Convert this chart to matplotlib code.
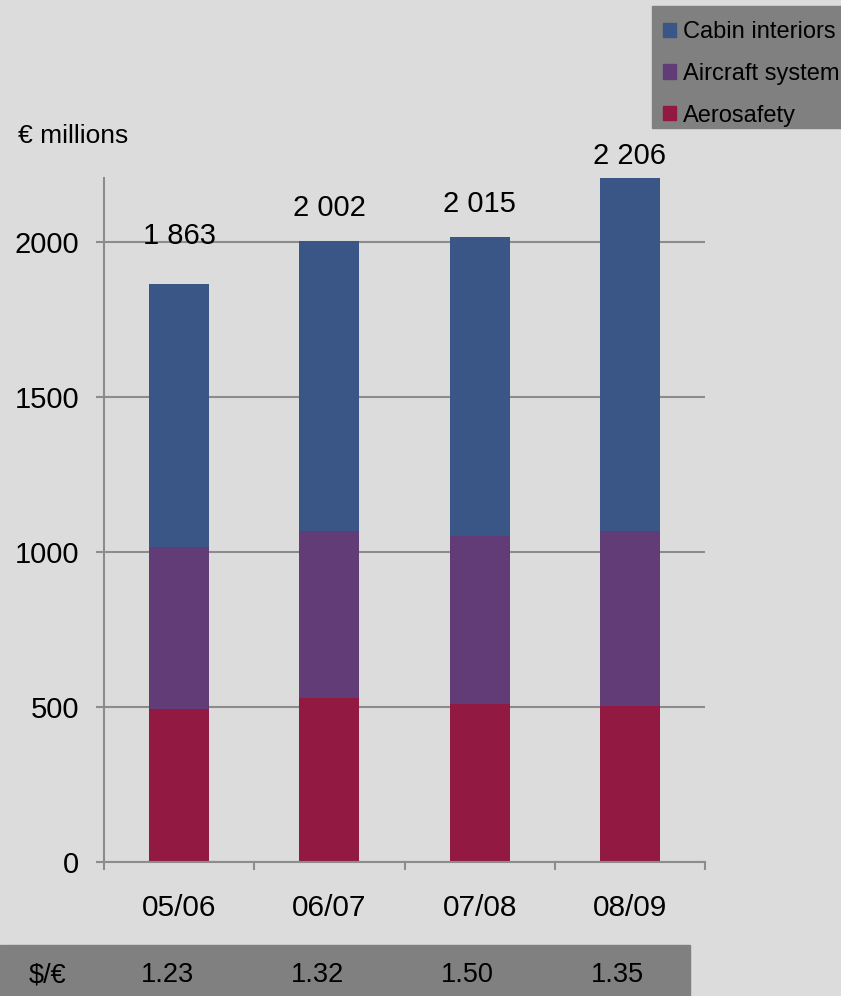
#!/usr/bin/env python
import matplotlib
matplotlib.use ('Agg')
import matplotlib.pyplot as plt
import matplotlib.transforms as mtransforms
from matplotlib.patches import Patch, Rectangle
import numpy as np

years = ['05/06', '06/07', '07/08', '08/09']
aerosafety = [492, 528, 511, 503]
aircraft_systems = [525, 541, 539, 564]
cabin_interiors = [846, 933, 965, 1139]
totals = ['1 863', '2 002', '2 015', '2 206']
usd_eur = ['1.23', '1.32', '1.50', '1.35']

# how far each total sits above its stack, in points
label_lift = [35, 24, 24, 16]

BG = '#dcdcdc'
BAND = '#808080'
AXIS = '#8c8c8c'
colors = {'Aerosafety': '#921a42', 'Aircraft system': '#623c76', 'Cabin interiors': '#395686'}

def sales():
  """stacked sales per division, with the dollar rate underneath"""
  plt.rcParams['font.family'] = ['Liberation Sans', 'DejaVu Sans']

  W, H = 841, 996
  fig = plt.figure (figsize= (W / 100, H / 100), dpi= 100, facecolor= BG)
  ax = fig.add_axes ([104 / W, 134 / H, 601 / W, 684 / H])
  ax.set_facecolor (BG)

  x = np.arange (len (years))
  a = np.array (aerosafety)
  s = np.array (aircraft_systems)
  c = np.array (cabin_interiors)
  ax.bar (x, a, width= 0.4, color= colors['Aerosafety'], zorder= 3)
  ax.bar (x, s, width= 0.4, bottom= a, color= colors['Aircraft system'], zorder= 3)
  ax.bar (x, c, width= 0.4, bottom= a + s, color= colors['Cabin interiors'], zorder= 3)

  # totals above each stack
  for i, top in enumerate (a + s + c):
    ax.annotate (totals[i], (x[i], top), xytext= (0, label_lift[i]), textcoords= 'offset points',
                 ha= 'center', va= 'center', fontsize= 21)

  ax.set_xlim (-0.5, len (years) - 0.5)
  ax.set_ylim (0, 2206)
  ax.set_yticks ([0, 500, 1000, 1500, 2000])
  ax.set_xticks (np.arange (-0.5, len (years)), [''] * (len (years) + 1))
  ax.set_xticks (x, years, minor= True)
  ax.tick_params (axis= 'x', which= 'major', direction= 'out', length= 6, width= 1.5, color= AXIS)
  ax.tick_params (axis= 'x', which= 'minor', length= 0, pad= 23, labelsize= 21.5)
  ax.tick_params (axis= 'y', direction= 'out', length= 6, width= 1.5, color= AXIS, pad= 12, labelsize= 21)
  ax.yaxis.grid (True, color= AXIS, linewidth= 1.5, zorder= 0)
  for side in ('top', 'right'):
    ax.spines[side].set_visible (False)
  for side in ('left', 'bottom'):
    ax.spines[side].set_color (AXIS)
    ax.spines[side].set_linewidth (1.5)
  ax.spines['bottom'].set_zorder (4)

  fig.text (18 / W, 1 - 136 / H, '€ millions', ha= 'left', va= 'center', fontsize= 19)

  # legend on a grey panel running off the top right corner
  fig.patches.append (Rectangle ((652 / W, 1 - 128 / H), 189 / W, 122 / H,
                                 transform= fig.transFigure, color= BAND, zorder= 0))
  names = ['Cabin interiors', 'Aircraft system', 'Aerosafety']
  handles = [Patch (color= colors[k]) for k in names]
  fig.legend (handles, names, loc= 'upper left', bbox_to_anchor= (663 / W, 1 - 21 / H),
              fontsize= 17, handlelength= 0.55, handleheight= 0.55, handletextpad= 0.3,
              labelspacing= 0.84, borderpad= 0, borderaxespad= 0, frameon= False)

  # exchange rate band along the bottom
  fig.patches.append (Rectangle ((0, 0), 690 / W, 51 / H, transform= fig.transFigure,
                                 color= BAND, zorder= 0))
  band = mtransforms.blended_transform_factory (ax.transData, fig.transFigure)
  fig.text (48 / W, 21 / H, '$/€', ha= 'center', va= 'center', fontsize= 19.5)
  for i, rate in enumerate (usd_eur):
    fig.text (x[i] - 0.08, 21 / H, rate, transform= band, ha= 'center', va= 'center', fontsize= 19.5)

  fig.savefig ('out.png', dpi= 100, facecolor= BG)

sales()
